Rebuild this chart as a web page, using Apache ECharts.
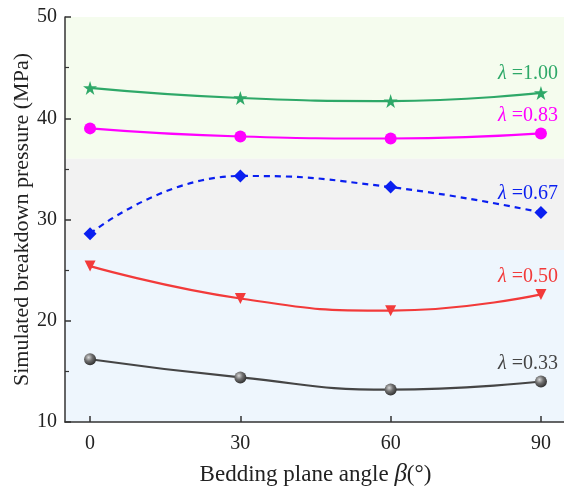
<!DOCTYPE html>
<html>
<head>
<meta charset="utf-8">
<script src="https://cdn.jsdelivr.net/npm/echarts@6/dist/echarts.min.js"></script>
<style>
html,body{margin:0;padding:0;background:#fff;}
#chart{width:564px;height:492px;}
</style>
</head>
<body>
<div id="chart"></div>
<script>
// Bedding plane angles (deg)
const angles = [0, 30, 60, 90];
const xTicks = [0, 30, 60, 90];
const yTicks = [10, 20, 30, 40, 50];

// Simulated breakdown pressure (MPa) for each lateral pressure coefficient
const p100 = [43.0, 42.0, 41.7, 42.5];
const p083 = [39.0, 38.2, 38.0, 38.5];
const p067 = [28.6, 34.3, 33.2, 30.7];
const p050 = [25.4, 22.2, 21.0, 22.6];
const p033 = [16.2, 14.4, 13.2, 14.0];

const lambdaNames = ['1.00', '0.83', '0.67', '0.50', '0.33'];

// Shaded pressure zones [from, to, colour]
const zones = [
  [36, 50, '#f5fcee'],
  [27, 36, '#f2f2f2'],
  [10, 27, '#eef6fd']
];

const serif = 'Liberation Serif';
const starPath = 'path://M50,0 L61.8,35.4 L100,35.4 L69.1,57.3 L80.9,92.7 L50,70.8 L19.1,92.7 L30.9,57.3 L0,35.4 L38.2,35.4 Z';

function pairs(vals) {
  return angles.map((a, i) => [a, vals[i]]);
}

function endLabel(name, color) {
  return {
    show: true,
    position: 'top',
    align: 'right',
    offset: [17, 3],
    formatter: '{l|λ}{t| =' + name + '}',
    rich: {
      l: { fontFamily: serif, fontStyle: 'italic', fontSize: 20, color: color },
      t: { fontFamily: serif, fontSize: 20, color: color }
    }
  };
}

function makeSeries(vals, name, color, symbol, size, dashed, extraItem) {
  const data = pairs(vals).map(d => ({ value: d }));
  data[data.length - 1].label = endLabel(name, color);
  return {
    type: 'line',
    data: data,
    smooth: 0.5,
    symbol: symbol,
    symbolSize: size,
    showAllSymbol: true,
    lineStyle: { color: color, width: 2.2, type: dashed ? [6, 5] : 'solid' },
    itemStyle: Object.assign({ color: color, borderWidth: 0 }, extraItem || {}),
    label: { show: false },
    emphasis: { disabled: true },
    z: 3
  };
}

const sphere = {
  color: {
    type: 'radial', x: 0.38, y: 0.35, r: 0.7,
    colorStops: [
      { offset: 0, color: '#d8d8d8' },
      { offset: 0.45, color: '#707070' },
      { offset: 1, color: '#2a2a2a' }
    ]
  }
};

const series = [
  makeSeries(p100, lambdaNames[0], '#2ea868', starPath, 14),
  makeSeries(p083, lambdaNames[1], '#ff00ff', 'circle', 12),
  makeSeries(p067, lambdaNames[2], '#0a1ff0', 'diamond', 13, true),
  makeSeries(p050, lambdaNames[3], '#f23a3a', 'triangle', 11),
  makeSeries(p033, lambdaNames[4], '#454545', 'circle', 12, false, sphere)
];
series[3].symbolRotate = 180;

// Background zones drawn behind everything
series[0].markArea = {
  silent: true,
  z: 0,
  data: zones.map(z => [
    { xAxis: -5, yAxis: z[0], itemStyle: { color: z[2] } },
    { xAxis: 95, yAxis: z[1] }
  ])
};

const chart = echarts.init(document.getElementById('chart'), null, { renderer: 'canvas' });
chart.setOption({
  animation: false,
  backgroundColor: '#ffffff',
  grid: { left: 65, right: -2, top: 17, bottom: 70, containLabel: false, outerBoundsMode: 'none' },
  xAxis: {
    type: 'value',
    min: -5, max: 95,
    interval: 30,
    name: 'Bedding plane angle {b|β}(°)',
    nameLocation: 'middle',
    nameGap: 40,
    nameMoveOverlap: false,
    nameTextStyle: {
      fontFamily: serif, fontSize: 23, color: '#222',
      rich: { b: { fontFamily: serif, fontStyle: 'italic', fontSize: 25, color: '#222' } }
    },
    axisLine: { show: true, onZero: false, lineStyle: { color: '#333', width: 1.5 } },
    axisTick: { show: true, inside: true, length: 6, lineStyle: { color: '#333', width: 1.5 }, customValues: xTicks },
    axisLabel: { fontFamily: serif, fontSize: 20, color: '#222', margin: 12, customValues: xTicks },
    splitLine: { show: false }
  },
  yAxis: {
    type: 'value',
    min: 10, max: 50,
    interval: 10,
    name: 'Simulated breakdown pressure (MPa)',
    nameLocation: 'middle',
    nameRotate: 90,
    nameGap: 32,
    nameMoveOverlap: false,
    nameTextStyle: { fontFamily: serif, fontSize: 22, color: '#222' },
    axisLine: { show: true, onZero: false, lineStyle: { color: '#333', width: 1.5 } },
    axisTick: { show: true, inside: true, length: 6, lineStyle: { color: '#333', width: 1.5 } },
    minorTick: { show: true, splitNumber: 2, length: 4, lineStyle: { color: '#333', width: 1.2 } },
    axisLabel: {
      fontFamily: serif, fontSize: 20, color: '#222', margin: 8,
      formatter: v => (yTicks.indexOf(v) >= 0 ? String(v) : '')
    },
    splitLine: { show: false }
  },
  series: series
});
</script>
</body>
</html>
